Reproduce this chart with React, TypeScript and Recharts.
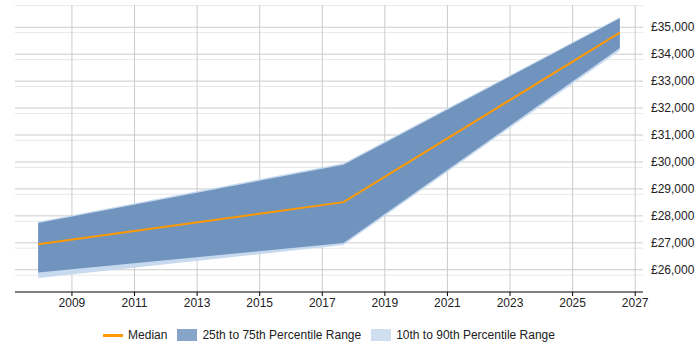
import React from "react";
import { ComposedChart, Area, Line, XAxis, YAxis, CartesianGrid } from "recharts";

// salary percentiles by year
const years = [2007.92, 2017.68, 2026.51];
const p10 = [25690, 26920, 34140];
const p25 = [25900, 26990, 34225];
const median = [26950, 28510, 34800];
const p75 = [27735, 29895, 35335];
const p90 = [27780, 29955, 35370];

const yearTicks = [2009, 2011, 2013, 2015, 2017, 2019, 2021, 2023, 2025, 2027];
const salaryTicks = [26000, 27000, 28000, 29000, 30000, 31000, 32000, 33000, 34000, 35000];
const minorTicks: number[] = [];
for (let v = 25200; v <= 35800; v += 200) {
  if (v % 1000 !== 0) minorTicks.push(v);
}

const data = years.map((year, i) => ({
  year,
  median: median[i],
  outer: [p10[i], p90[i]],
  inner: [p25[i], p75[i]],
}));

const FONT = "'Liberation Sans', Arial, sans-serif";

const fmt = (v: number) => "£" + v.toLocaleString("en-GB");

const LegendRow = () => (
  <div
    style={{
      position: "absolute",
      top: 328,
      left: 0,
      width: 658,
      display: "flex",
      justifyContent: "center",
      alignItems: "center",
      fontFamily: FONT,
      fontSize: 12,
      color: "#222",
    }}
  >
    <span style={{ display: "inline-block", width: 20, height: 3, background: "#ff9900", marginRight: 5 }} />
    <span style={{ marginRight: 10 }}>Median</span>
    <span style={{ display: "inline-block", width: 20, height: 12, background: "#87a5c8", marginRight: 5 }} />
    <span style={{ marginRight: 10 }}>25th to 75th Percentile Range</span>
    <span style={{ display: "inline-block", width: 20, height: 12, background: "#cfdff0", marginRight: 5 }} />
    <span>10th to 90th Percentile Range</span>
  </div>
);

export default function App() {
  return (
    <div style={{ position: "absolute", left: 0, top: 0, width: 700, height: 350, background: "#fff" }}>
      <ComposedChart width={700} height={350} data={data} margin={{ top: 5, right: 0, left: 15, bottom: 28 }}>
        <CartesianGrid vertical={false} horizontalValues={minorTicks} stroke="#e8e8e8" />
        <CartesianGrid horizontalValues={salaryTicks} verticalValues={yearTicks} stroke="#cccccc" />
        <XAxis
          dataKey="year"
          type="number"
          domain={[2007.18, 2027.25]}
          ticks={yearTicks}
          allowDataOverflow
          height={30}
          stroke="#000"
          tickSize={4}
          tick={{ fill: "#222", fontSize: 12, fontFamily: FONT }}
        />
        <YAxis
          orientation="right"
          domain={[25175, 35825]}
          ticks={salaryTicks}
          allowDataOverflow
          width={57}
          axisLine={false}
          tickLine={false}
          tickFormatter={fmt}
          tick={{ fill: "#222", fontSize: 12, fontFamily: FONT, textAnchor: "start" }}
        />
        <Area dataKey="outer" type="linear" stroke="none" fill="#c6d9ee" fillOpacity={1} isAnimationActive={false} />
        <Area dataKey="inner" type="linear" stroke="none" fill="#7094be" fillOpacity={1} isAnimationActive={false} />
        <Line dataKey="median" type="linear" stroke="#ff9900" strokeWidth={2} dot={false} isAnimationActive={false} />
      </ComposedChart>
      <LegendRow />
    </div>
  );
}
